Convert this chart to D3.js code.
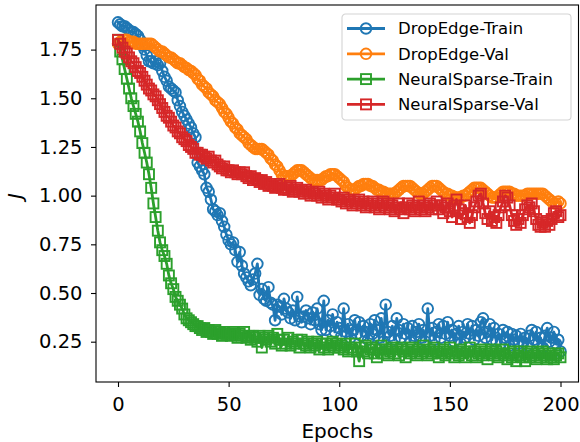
<!DOCTYPE html>
<html>
<head>
<meta charset="utf-8">
<script src="https://cdn.jsdelivr.net/npm/d3@7"></script>
<style>
  html, body { margin: 0; padding: 0; background: #fff; }
  svg { display: block; font-family: "DejaVu Sans", sans-serif; }
</style>
</head>
<body>
<svg id="chart" width="580" height="442"></svg>
<script>
// Loss J per epoch (0..200) for DropEdge and NeuralSparse, train and validation.
const epochs = d3.range(0, 201);

const dropEdgeTrain = [
  1.89, 1.88, 1.87, 1.87, 1.86, 1.85, 1.84, 1.84, 1.83, 1.82,
  1.80, 1.77, 1.75, 1.72, 1.69, 1.69, 1.68, 1.69, 1.67, 1.68,
  1.64, 1.61, 1.59, 1.56, 1.55, 1.54, 1.53, 1.49, 1.46, 1.43,
  1.41, 1.39, 1.37, 1.35, 1.32, 1.30, 1.17, 1.15, 1.13, 1.11,
  1.04, 1.02, 0.98, 0.93, 0.92, 0.90, 0.91, 0.87, 0.84, 0.80,
  0.77, 0.75, 0.76, 0.72, 0.66, 0.71, 0.64, 0.60, 0.58, 0.56,
  0.54, 0.57, 0.60, 0.65, 0.49, 0.52, 0.47, 0.46, 0.53, 0.45,
  0.44, 0.36, 0.44, 0.43, 0.39, 0.47, 0.42, 0.40, 0.37, 0.41,
  0.36, 0.48, 0.38, 0.35, 0.38, 0.41, 0.37, 0.34, 0.40, 0.36,
  0.42, 0.34, 0.31, 0.46, 0.31, 0.36, 0.33, 0.39, 0.30, 0.35,
  0.32, 0.28, 0.42, 0.30, 0.34, 0.27, 0.31, 0.36, 0.29, 0.35,
  0.28, 0.33, 0.30, 0.26, 0.34, 0.29, 0.36, 0.31, 0.27, 0.37,
  0.25, 0.44, 0.30, 0.28, 0.33, 0.26, 0.37, 0.31, 0.27, 0.34,
  0.29, 0.32, 0.25, 0.33, 0.28, 0.30, 0.34, 0.27, 0.31, 0.25,
  0.42, 0.28, 0.32, 0.26, 0.30, 0.34, 0.27, 0.33, 0.29, 0.35,
  0.28, 0.31, 0.25, 0.29, 0.33, 0.24, 0.30, 0.27, 0.34, 0.29,
  0.33, 0.26, 0.31, 0.28, 0.35, 0.37, 0.27, 0.30, 0.34, 0.26,
  0.32, 0.25, 0.29, 0.24, 0.31, 0.27, 0.30, 0.23, 0.29, 0.26,
  0.28, 0.24, 0.29, 0.25, 0.27, 0.23, 0.28, 0.31, 0.26, 0.30,
  0.24, 0.27, 0.22, 0.28, 0.32, 0.25, 0.27, 0.30, 0.24, 0.26,
  0.20
];

const dropEdgeVal = [
  1.78, 1.79, 1.79, 1.80, 1.80, 1.79, 1.79, 1.79, 1.78, 1.78,
  1.78, 1.78, 1.78, 1.78, 1.78, 1.78, 1.77, 1.76, 1.75, 1.74,
  1.74, 1.73, 1.72, 1.71, 1.71, 1.70, 1.69, 1.68, 1.68, 1.67,
  1.66, 1.655, 1.645, 1.64, 1.63, 1.62, 1.60, 1.59, 1.57, 1.56,
  1.55, 1.53, 1.52, 1.51, 1.49, 1.48, 1.47, 1.45, 1.43, 1.42,
  1.40, 1.38, 1.37, 1.35, 1.34, 1.32, 1.31, 1.30, 1.29, 1.27,
  1.26, 1.25, 1.24, 1.24, 1.24, 1.24, 1.23, 1.22, 1.21, 1.19,
  1.18, 1.16, 1.15, 1.13, 1.11, 1.10, 1.10, 1.10, 1.10, 1.11,
  1.12, 1.13, 1.13, 1.13, 1.12, 1.11, 1.10, 1.09, 1.08, 1.08,
  1.08, 1.08, 1.08, 1.09, 1.10, 1.10, 1.11, 1.11, 1.11, 1.10,
  1.09, 1.08, 1.07, 1.05, 1.04, 1.03, 1.03, 1.03, 1.04, 1.05,
  1.05, 1.06, 1.06, 1.06, 1.05, 1.05, 1.04, 1.03, 1.03, 1.02,
  1.02, 1.01, 1.01, 1.01, 1.01, 1.01, 1.02, 1.03, 1.04, 1.05,
  1.05, 1.05, 1.05, 1.04, 1.03, 1.02, 1.01, 1.01, 1.01, 1.02,
  1.03, 1.04, 1.05, 1.05, 1.05, 1.04, 1.03, 1.02, 1.01, 1.01,
  1.00, 1.00, 0.99, 0.99, 0.99, 0.99, 1.00, 1.00, 1.01, 1.02,
  1.03, 1.04, 1.04, 1.04, 1.04, 1.03, 1.02, 1.01, 1.00, 0.99,
  0.99, 0.99, 1.00, 1.01, 1.02, 1.02, 1.02, 1.02, 1.01, 1.01,
  1.00, 1.00, 1.00, 1.00, 1.00, 1.01, 1.01, 1.01, 1.01, 1.01,
  1.01, 1.01, 1.01, 1.00, 0.99, 0.98, 0.97, 0.96, 0.96, 0.97,
  0.96
];

const neuralSparseTrain = [
  1.80, 1.74, 1.70, 1.65, 1.60, 1.55, 1.50, 1.46, 1.42, 1.38,
  1.33, 1.27, 1.22, 1.17, 1.11, 1.04, 0.96, 0.89, 0.82, 0.76,
  0.72, 0.69, 0.65, 0.59, 0.55, 0.52, 0.48, 0.46, 0.44, 0.42,
  0.39, 0.37, 0.36, 0.35, 0.34, 0.33, 0.33, 0.32, 0.31, 0.32,
  0.30, 0.31, 0.30, 0.29, 0.31, 0.29, 0.30, 0.28, 0.30, 0.29,
  0.29, 0.28, 0.30, 0.29, 0.27, 0.29, 0.28, 0.30, 0.27, 0.28,
  0.26, 0.28, 0.27, 0.25, 0.28, 0.22, 0.27, 0.26, 0.28, 0.25,
  0.27, 0.24, 0.29, 0.26, 0.23, 0.26, 0.24, 0.27, 0.23, 0.25,
  0.24, 0.26, 0.22, 0.26, 0.24, 0.23, 0.25, 0.22, 0.24, 0.23,
  0.25, 0.21, 0.24, 0.22, 0.24, 0.21, 0.23, 0.25, 0.22, 0.24,
  0.22, 0.23, 0.21, 0.24, 0.20, 0.22, 0.21, 0.24, 0.20, 0.15,
  0.22, 0.20, 0.23, 0.19, 0.21, 0.22, 0.19, 0.17, 0.21, 0.23,
  0.19, 0.21, 0.18, 0.20, 0.22, 0.19, 0.21, 0.18, 0.22, 0.20,
  0.17, 0.21, 0.19, 0.22, 0.20, 0.18, 0.21, 0.19, 0.23, 0.20,
  0.18, 0.21, 0.19, 0.22, 0.20, 0.17, 0.19, 0.21, 0.18, 0.20,
  0.22, 0.19, 0.17, 0.20, 0.18, 0.21, 0.19, 0.17, 0.20, 0.22,
  0.18, 0.20, 0.17, 0.19, 0.21, 0.18, 0.20, 0.16, 0.19, 0.21,
  0.18, 0.20, 0.17, 0.19, 0.21, 0.18, 0.16, 0.19, 0.17, 0.20,
  0.15, 0.18, 0.20, 0.17, 0.15, 0.19, 0.17, 0.20, 0.18, 0.16,
  0.19, 0.17, 0.20, 0.18, 0.16, 0.19, 0.17, 0.16, 0.18, 0.19,
  0.17
];

const neuralSparseVal = [
  1.80, 1.78, 1.76, 1.74, 1.73, 1.71, 1.69, 1.68, 1.66, 1.64,
  1.63, 1.61, 1.59, 1.57, 1.55, 1.54, 1.52, 1.51, 1.49, 1.47,
  1.45, 1.43, 1.41, 1.40, 1.38, 1.36, 1.35, 1.33, 1.32, 1.30,
  1.29, 1.28, 1.26, 1.25, 1.24, 1.22, 1.22, 1.21, 1.21, 1.20,
  1.19, 1.20, 1.18, 1.17, 1.18, 1.16, 1.15, 1.14, 1.15, 1.13,
  1.13, 1.12, 1.13, 1.12, 1.11, 1.12, 1.11, 1.12, 1.10, 1.09,
  1.10, 1.08, 1.09, 1.08, 1.07, 1.08, 1.06, 1.07, 1.05, 1.06,
  1.05, 1.04, 1.05, 1.06, 1.04, 1.03, 1.04, 1.03, 1.05, 1.02,
  1.03, 1.04, 1.02, 1.03, 1.01, 1.03, 1.02, 1.00, 1.02, 1.01,
  1.00, 1.02, 0.99, 1.01, 1.00, 0.98, 1.00, 0.99, 1.01, 0.98,
  0.98, 0.97, 0.99, 0.96, 0.98, 0.97, 0.95, 0.97, 0.96, 0.98,
  0.95, 0.97, 0.94, 0.96, 0.95, 0.97, 0.94, 0.96, 0.93, 0.95,
  0.97, 0.94, 0.96, 0.93, 0.95, 0.92, 0.94, 0.96, 0.93, 0.91,
  0.94, 0.96, 0.93, 0.95, 0.92, 0.94, 0.97, 0.93, 0.95, 0.92,
  0.94, 0.96, 0.93, 0.95, 0.97, 0.93, 0.95, 0.91, 0.94, 0.96,
  0.92, 0.89, 0.95, 0.98, 0.93, 0.88, 0.91, 0.95, 0.89, 0.86,
  0.90, 0.94, 0.97, 1.00, 1.01, 0.96, 0.91, 0.88, 0.92, 0.87,
  0.89, 0.86, 0.90, 0.94, 0.97, 1.00, 0.99, 0.95, 0.90, 0.87,
  0.85, 0.88, 0.86, 0.90, 0.93, 0.95, 0.94, 0.96, 0.92, 0.88,
  0.85, 0.84, 0.86, 0.84, 0.87, 0.85, 0.88, 0.91, 0.92, 0.89,
  0.90
];

const seriesNames = ["DropEdge-Train", "DropEdge-Val", "NeuralSparse-Train", "NeuralSparse-Val"];
const seriesColors = ["#1f77b4", "#ff7f0e", "#2ca02c", "#d62728"];
const seriesMarkers = ["circle", "circle", "square", "square"];
const xTicks = [0, 50, 100, 150, 200];
const yTicks = [0.25, 0.50, 0.75, 1.00, 1.25, 1.50, 1.75];

const series = [dropEdgeTrain, dropEdgeVal, neuralSparseTrain, neuralSparseVal].map((vals, i) => ({
  name: seriesNames[i],
  color: seriesColors[i],
  marker: seriesMarkers[i],
  points: epochs.map((e, j) => ({ x: e, y: vals[j] }))
}));

// Plot frame
const frame = { left: 96, right: 578.5, top: 5, bottom: 382 };

const x = d3.scaleLinear().domain([0, 200]).range([118, 560.5]);
const y = d3.scaleLinear().domain([0.043, 1.979]).range([frame.bottom, frame.top]);

const svg = d3.select("#chart");

svg.append("defs").append("clipPath").attr("id", "plot-clip")
  .append("rect")
  .attr("x", frame.left).attr("y", frame.top)
  .attr("width", frame.right - frame.left).attr("height", frame.bottom - frame.top);

const plot = svg.append("g").attr("clip-path", "url(#plot-clip)");

const line = d3.line().x(d => x(d.x)).y(d => y(d.y));

const markerR = 5.3;
const squareSide = 10;
const markerStroke = 1.9;
const lineWidth = 2.8;

function drawMarker(sel, kind, color, px, py) {
  if (kind === "circle") {
    sel.append("circle")
      .attr("cx", px).attr("cy", py).attr("r", markerR)
      .attr("fill", "none").attr("stroke", color).attr("stroke-width", markerStroke);
  } else {
    sel.append("rect")
      .attr("x", d => (typeof px === "function" ? px(d) : px) - squareSide / 2)
      .attr("y", d => (typeof py === "function" ? py(d) : py) - squareSide / 2)
      .attr("width", squareSide).attr("height", squareSide)
      .attr("fill", "none").attr("stroke", color).attr("stroke-width", markerStroke);
  }
}

series.forEach(s => {
  const g = plot.append("g");
  g.append("path").datum(s.points)
    .attr("d", line)
    .attr("fill", "none")
    .attr("stroke", s.color)
    .attr("stroke-width", lineWidth)
    .attr("stroke-linejoin", "round")
    .attr("stroke-linecap", "square");
  const m = g.append("g").selectAll("g").data(s.points).join("g");
  drawMarker(m, s.marker, s.color, d => x(d.x), d => y(d.y));
});

// Axes
const yAxis = d3.axisLeft(y).tickValues(yTicks).tickFormat(d3.format(".2f")).tickSize(5).tickPadding(8.5);
const xAxis = d3.axisBottom(x).tickValues(xTicks).tickFormat(d3.format("d")).tickSize(5).tickPadding(10.5);

const gy = svg.append("g").attr("transform", `translate(${frame.left},0)`).call(yAxis);
const gx = svg.append("g").attr("transform", `translate(0,${frame.bottom})`).call(xAxis);
[gx, gy].forEach(g => {
  g.select(".domain").remove();
  g.selectAll(".tick line").attr("stroke", "#000").attr("stroke-width", 1.1);
  g.selectAll(".tick text")
    .attr("fill", "#000")
    .style("font-family", "'DejaVu Sans', sans-serif")
    .style("font-size", "19.5px");
});

// Frame
svg.append("rect")
  .attr("x", frame.left).attr("y", frame.top)
  .attr("width", frame.right - frame.left).attr("height", frame.bottom - frame.top)
  .attr("fill", "none").attr("stroke", "#000").attr("stroke-width", 1.1);

// Axis titles
svg.append("text")
  .attr("x", (frame.left + frame.right) / 2).attr("y", 438)
  .attr("text-anchor", "middle")
  .style("font-size", "20px")
  .text("Epochs");

svg.append("text")
  .attr("transform", "translate(22,196) rotate(-90)")
  .attr("text-anchor", "middle")
  .style("font-size", "20px")
  .style("font-style", "italic")
  .text("J");

// Legend
const legend = svg.append("g").attr("transform", "translate(342,14)");
legend.append("rect")
  .attr("x", 0).attr("y", 0).attr("width", 229).attr("height", 106)
  .attr("rx", 3.5).attr("ry", 3.5)
  .attr("fill", "#fff").attr("fill-opacity", 0.8)
  .attr("stroke", "#d4d4d4").attr("stroke-width", 1.1);

series.forEach((s, i) => {
  const row = legend.append("g").attr("transform", `translate(0,${14.5 + i * 25.3})`);
  row.append("line")
    .attr("x1", 5).attr("x2", 43).attr("y1", 0).attr("y2", 0)
    .attr("stroke", s.color).attr("stroke-width", lineWidth);
  const mk = row.append("g").datum({ x: 0, y: 0 });
  drawMarker(mk, s.marker, s.color, 24, 0);
  row.append("text")
    .attr("x", 56).attr("y", 0).attr("dy", "0.36em")
    .style("font-size", "16.5px")
    .attr("fill", "#000")
    .text(s.name);
});
</script>
</body>
</html>
